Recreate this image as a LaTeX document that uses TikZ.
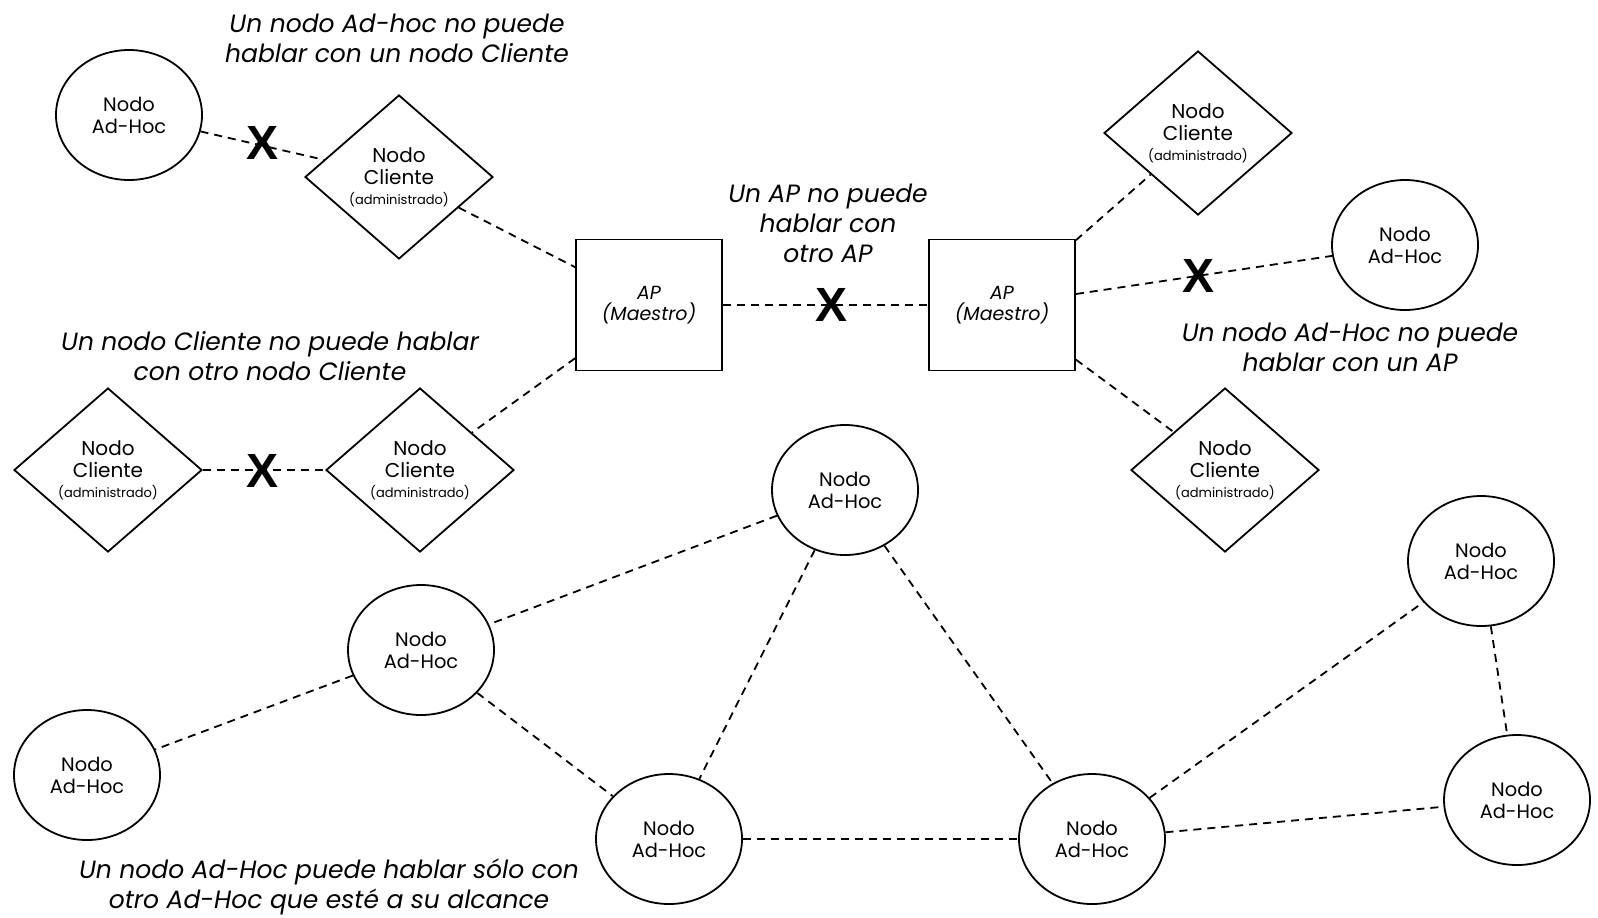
\documentclass[tikz,border=0pt]{standalone}
\usepackage{fontspec}
\setmainfont{Poppins}
\newfontfamily\xfont{Liberation Sans}
\usetikzlibrary{shapes.geometric}
\begin{document}
\begin{tikzpicture}[x=0.5pt,y=-0.5pt,
  adhoc/.style={ellipse,draw,line width=0.9pt,fill=white,minimum width=73pt,minimum height=65pt,inner sep=0pt,align=center,font=\fontsize{9.7}{11}\selectfont},
  cliente/.style={diamond,draw,line width=0.9pt,fill=white,minimum width=94pt,minimum height=82pt,inner sep=0pt,align=center,font=\fontsize{10}{11}\selectfont},
  apbox/.style={rectangle,draw,line width=0.9pt,fill=white,minimum width=73pt,minimum height=65.5pt,inner sep=0pt,align=center,font=\itshape\fontsize{9.5}{10.5}\selectfont},
  link/.style={line width=0.9pt,dash pattern=on 4pt off 3pt},
  cross/.style={inner sep=0pt,font=\xfont\bfseries\fontsize{24}{24}\selectfont},
  note/.style={align=center,inner sep=0pt,font=\itshape\fontsize{12.5}{15}\selectfont}]
\useasboundingbox (0,0) rectangle (1598,917);
\fill[white] (0,0) rectangle (1598,917);
\newcommand{\cli}{Nodo\\Cliente\\[-1pt]{\fontsize{6.5}{7}\selectfont(administrado)}}
% nodes
\node[adhoc] (e1) at (129,115) {Nodo\\Ad-Hoc};
\node[cliente] (d1) at (399,177) {\cli};
\node[apbox] (ap1) at (649,305) {AP\\(Maestro)};
\node[apbox] (ap2) at (1002,305) {AP\\(Maestro)};
\node[cliente] (d2) at (1198,133) {\cli};
\node[adhoc] (e2) at (1405,245) {Nodo\\Ad-Hoc};
\node[cliente] (d3) at (1225,470) {\cli};
\node[cliente] (d4) at (108,470) {\cli};
\node[cliente] (d5) at (420,470) {\cli};
\node[adhoc] (e3) at (845,490) {Nodo\\Ad-Hoc};
\node[adhoc] (e4) at (421,650) {Nodo\\Ad-Hoc};
\node[adhoc] (e5) at (87,775) {Nodo\\Ad-Hoc};
\node[adhoc] (e6) at (669,839) {Nodo\\Ad-Hoc};
\node[adhoc] (e7) at (1092,839) {Nodo\\Ad-Hoc};
\node[adhoc] (e8) at (1481,561) {Nodo\\Ad-Hoc};
\node[adhoc] (e9) at (1517,800) {Nodo\\Ad-Hoc};
% links
\draw[link] (e1) -- (d1);
\draw[link] (d1) -- (ap1);
\draw[link] (ap1) -- (d5);
\draw[link] (d4) -- (d5);
\draw[link] (ap1) -- (ap2);
\draw[link] (ap2) -- (d2);
\draw[link] (ap2) -- (e2);
\draw[link] (ap2) -- (d3);
\draw[link] (e3) -- (e4);
\draw[link] (e4) -- (e5);
\draw[link] (e4) -- (e6);
\draw[link] (e3) -- (e6);
\draw[link] (e3) -- (e7);
\draw[link] (e6) -- (e7);
\draw[link] (e7) -- (e8);
\draw[link] (e7) -- (e9);
\draw[link] (e8) -- (e9);
% crosses
\node[cross] (x1) at (263,143) {X};
\node[cross] (x2) at (263,471) {X};
\node[cross] (x3) at (831,305) {X};
\node[cross] (x4) at (1198,276) {X};
% notes
\node[note] (n1) at (397,38) {Un nodo Ad-hoc no puede\\hablar con un nodo Cliente};
\node[note] (n2) at (828,223) {Un AP no puede\\hablar con\\otro AP};
\node[note] (n3) at (270,356) {Un nodo Cliente no puede hablar\\con otro nodo Cliente};
\node[note] (n4) at (1350,347) {Un nodo Ad-Hoc no puede\\hablar con un AP};
\node[note] (n5) at (329,887) {Un nodo Ad-Hoc puede hablar sólo con\\otro Ad-Hoc que esté a su alcance};
\end{tikzpicture}
\end{document}
